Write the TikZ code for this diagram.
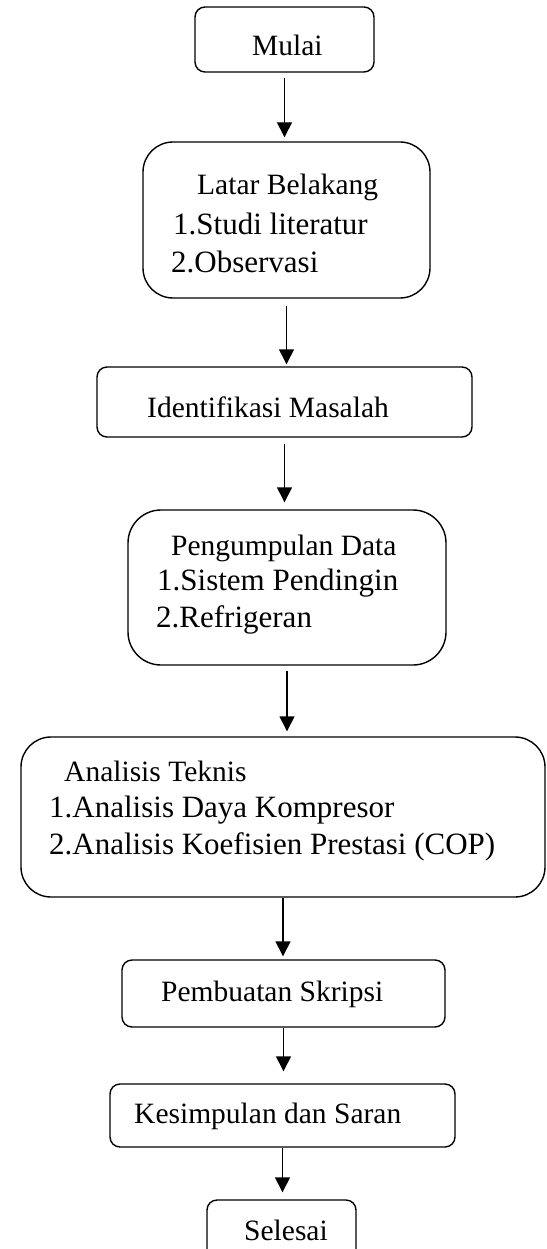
\documentclass[tikz,border=0pt]{standalone}
\usepackage{fontspec}
\setmainfont{Liberation Serif}
\usetikzlibrary{arrows.meta}
\tikzset{
  box/.style={draw, line width=1.4pt, inner sep=0pt},
  lbl/.style={anchor=base west, inner sep=0pt, font=\fontsize{29.5}{30}\selectfont},
  itm/.style={anchor=base west, inner sep=0pt, font=\fontsize{31}{32}\selectfont},
  arr/.style={line width=1.4pt, -{Triangle[width=15pt,length=15pt]}},
}
\begin{document}
\begin{tikzpicture}[x=1pt,y=-1pt]
\useasboundingbox (0,0) rectangle (546,1249);
% boxes
\node[box, rounded corners=10pt, minimum width=179pt, minimum height=65pt] (mulai) at (284.5,39.5) {};
\node[box, rounded corners=30pt, minimum width=287pt, minimum height=156pt] (latar) at (286.5,220) {};
\node[box, rounded corners=10pt, minimum width=375pt, minimum height=70pt] (ident) at (284.5,402) {};
\node[box, rounded corners=33pt, minimum width=318pt, minimum height=155pt] (pengum) at (287,587.5) {};
\node[box, rounded corners=30pt, minimum width=524pt, minimum height=160pt] (analis) at (283,817) {};
\node[box, rounded corners=10pt, minimum width=323pt, minimum height=67pt] (pembu) at (283.5,993.5) {};
\node[box, rounded corners=10pt, minimum width=345pt, minimum height=63pt] (kesim) at (282.5,1115.5) {};
\node[box, rounded corners=10pt, minimum width=149pt, minimum height=62pt] (seles) at (281.5,1231) {};
% texts
\node[lbl] (tmulai) at (252,56) {Mulai};
\node[lbl] (tlatar) at (197,195) {Latar Belakang};
\node[itm] (tlatar1) at (173,235) {1.Studi literatur};
\node[itm] (tlatar2) at (171,272) {2.Observasi};
\node[lbl] (tident) at (147,417) {Identifikasi Masalah};
\node[lbl] (tpeng) at (171,555) {Pengumpulan Data};
\node[itm] (tpeng1) at (157,590) {1.Sistem Pendingin};
\node[itm] (tpeng2) at (156,627) {2.Refrigeran};
\node[lbl] (tanal) at (64,781) {Analisis Teknis};
\node[itm] (tanal1) at (49,817) {1.Analisis Daya Kompresor};
\node[itm] (tanal2) at (49,854) {2.Analisis Koefisien Prestasi (COP)};
\node[lbl] (tpemb) at (161,1001) {Pembuatan Skripsi};
\node[lbl] (tkesi) at (134,1123) {Kesimpulan dan Saran};
\node[lbl] (tsele) at (244,1240) {Selesai};
% arrows
\draw[arr, shorten <=5pt, shorten >=4pt] (mulai.south) -- (mulai.south |- latar.north);
\draw[arr, shorten <=7pt, shorten >=2pt] (latar.south) -- (latar.south |- ident.north);
\draw[arr, shorten <=6pt, shorten >=7pt] (ident.south) -- (ident.south |- pengum.north);
\draw[arr, shorten <=5pt, shorten >=5pt] (pengum.south) -- (pengum.south |- analis.north);
\draw[arr, shorten >=3pt] (analis.south) -- (analis.south |- pembu.north);
\draw[arr, shorten >=12pt] (pembu.south) -- (pembu.south |- kesim.north);
\draw[arr, shorten >=7pt] (kesim.south) -- (kesim.south |- seles.north);
\end{tikzpicture}
\end{document}
